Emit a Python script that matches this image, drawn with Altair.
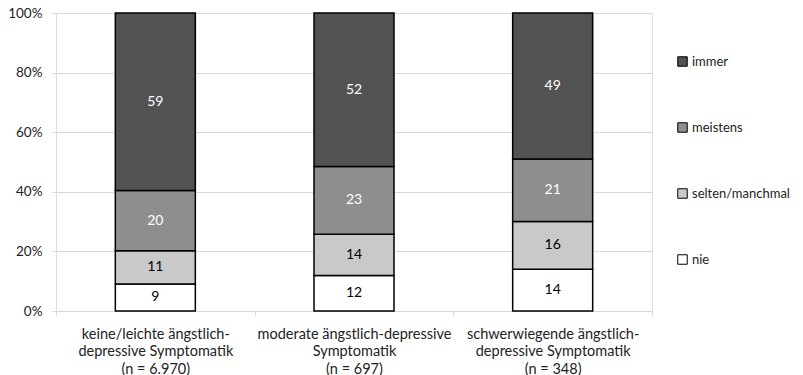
import altair as alt
import pandas as pd

categories = [
    "keine/leichte ängstlich-|depressive Symptomatik|(n = 6.970)",
    "moderate ängstlich-depressive|Symptomatik|(n = 697)",
    "schwerwiegende ängstlich-|depressive Symptomatik|(n = 348)",
]
responses = ["nie", "selten/manchmal", "meistens", "immer"]
values_keine = [9, 11, 20, 59]
values_moderat = [12, 14, 23, 52]
values_schwer = [14, 16, 21, 49]
fill_colors = ["#ffffff", "#c9c9c9", "#8e8e8e", "#525252"]
text_colors = ["#000000", "#000000", "#ffffff", "#ffffff"]

rows = []
for cat, vals in zip(categories, [values_keine, values_moderat, values_schwer]):
    for i, (resp, v) in enumerate(zip(responses, vals)):
        rows.append({"cat": cat, "resp": resp, "order": i, "value": v, "tcolor": text_colors[i]})
df = pd.DataFrame(rows)

FONT = "Lato"

base = alt.Chart(df).transform_stack(
    stack="value",
    groupby=["cat"],
    as_=["y0", "y1"],
    offset="normalize",
    sort=[alt.SortField("order", order="ascending")],
).transform_calculate(mid="(datum.y0 + datum.y1) / 2")

x_enc = alt.X(
    "cat:N",
    sort=categories,
    scale=alt.Scale(paddingInner=0, paddingOuter=0),
    axis=alt.Axis(
        title=None,
        labelAngle=0,
        labelExpr="split(datum.label, '|')",
        labelLineHeight=17.5,
        labelFontSize=14.5,
        labelFont=FONT,
        labelColor="#222222",
        labelPadding=11,
        labelLimit=400,
        tickBand="extent",
        tickSize=5,
        tickColor="#d9d9d9",
        domain=False,
        grid=False,
        labelBaseline="top",
    ),
)

bars = base.mark_bar(size=80, stroke="#000000", strokeWidth=1.5).encode(
    x=x_enc,
    y=alt.Y(
        "y1:Q",
        scale=alt.Scale(domain=[0, 1], nice=False),
        axis=alt.Axis(
            title=None,
            values=[0, 0.2, 0.4, 0.6, 0.8, 1.0],
            format=".0%",
            labelFontSize=13.5,
            labelFont=FONT,
            labelColor="#222222",
            tickSize=4,
            tickColor="#d9d9d9",
            labelPadding=10,
            gridColor="#d9d9d9",
            domain=False,
        ),
    ),
    y2="y0:Q",
    fill=alt.Fill(
        "resp:N",
        scale=alt.Scale(domain=responses[::-1], range=fill_colors[::-1]),
        legend=alt.Legend(
            title=None,
            orient="none",
            legendX=620,
            legendY=42,
            symbolType="square",
            symbolSize=90,
            symbolStrokeColor="#000000",
            symbolStrokeWidth=1,
            symbolOpacity=1,
            labelFontSize=13,
            labelFont=FONT,
            labelColor="#222222",
            labelOffset=3,
            labelLimit=300,
            rowPadding=51,
            padding=0,
        ),
    ),
)

labels = base.mark_text(fontSize=14, font=FONT, baseline="middle", align="center").encode(
    x=alt.X("cat:N", sort=categories),
    y=alt.Y("mid:Q"),
    text=alt.Text("value:Q"),
    color=alt.Color("tcolor:N", scale=None),
)

chart = (
    alt.layer(bars, labels)
    .properties(
        width=596,
        height=298,
        autosize=alt.AutoSizeParams(type="none"),
        padding={"left": 48, "top": 5, "right": 142, "bottom": 64},
    )
    .configure_view(stroke="#d9d9d9", strokeWidth=1)
    .configure(background="#ffffff")
)

chart.save("out.html", embed_options={"renderer": "svg", "actions": False})
